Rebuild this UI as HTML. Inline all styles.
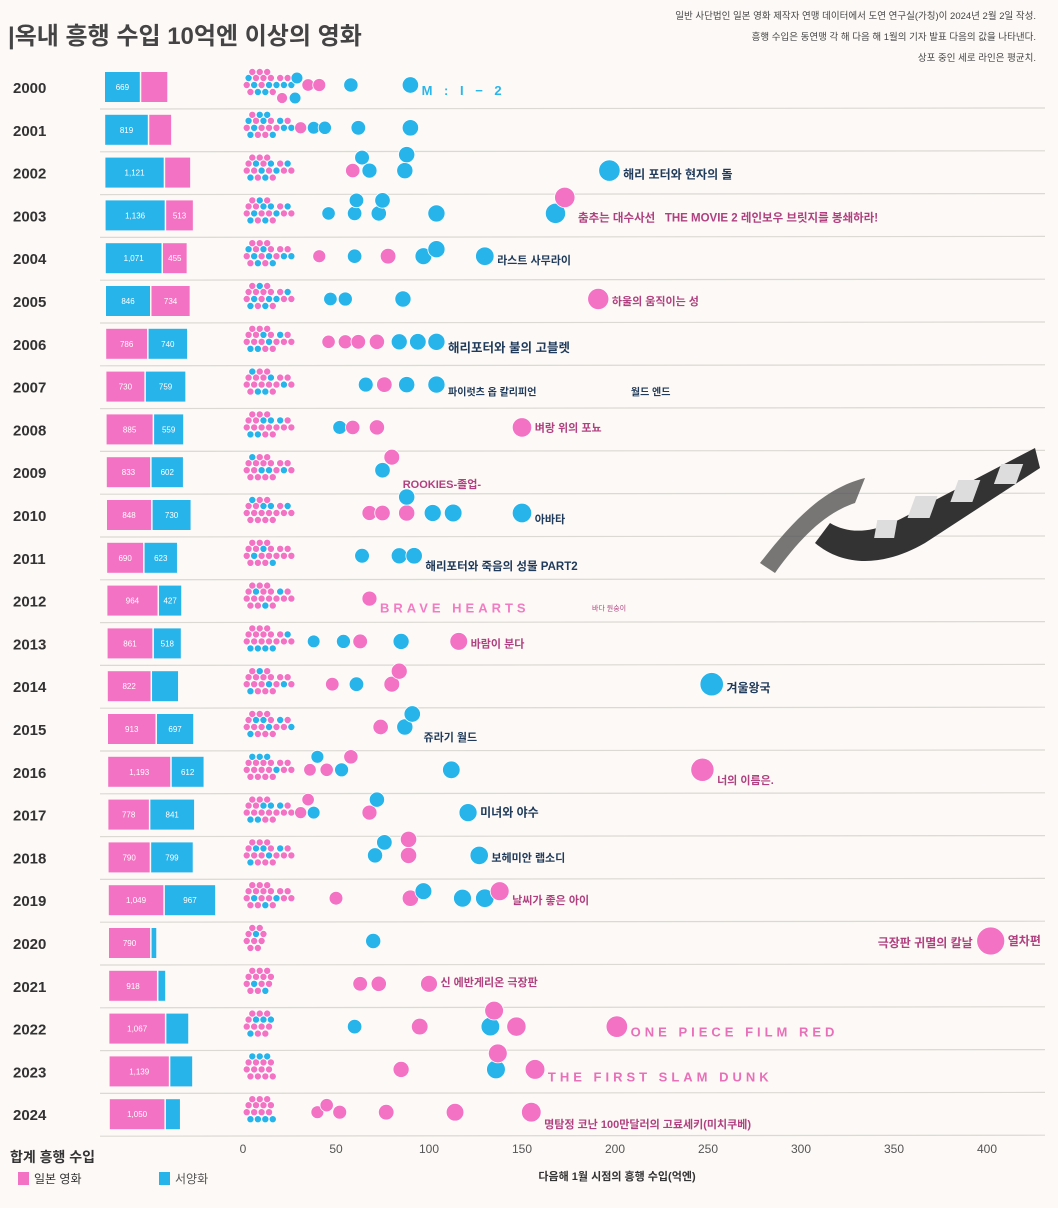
<!DOCTYPE html>
<html><head><meta charset="utf-8">
<style>
html,body{margin:0;padding:0;background:#fcf9f6;}
body{width:1058px;height:1208px;position:relative;overflow:hidden;font-family:"Liberation Sans","Noto Sans CJK KR",sans-serif;}
.t{position:absolute;white-space:nowrap;}
svg text{white-space:pre;}
</style></head><body>
<div class="t" style="left:8px;top:16px;font-size:24px;font-weight:bold;color:#444;">|옥내 흥행 수입 10억엔 이상의 영화</div>
<div class="t" style="right:22px;top:6px;font-size:9.5px;color:#444;text-align:right;line-height:21px;">일반 사단법인 일본 영화 제작자 연맹 데이터에서 도연 연구실(가칭)이 2024년 2월 2일 작성.<br>흥행 수입은 동연맹 각 해 다음 해 1월의 기자 발표 다음의 값을 나타낸다.<br>상포 중인 세로 라인은 평균치.</div>
<svg id="chart" width="1058" height="1208" style="position:absolute;left:0;top:0"></svg>
<script>
const years=[2000,2001,2002,2003,2004,2005,2006,2007,2008,2009,2010,2011,2012,2013,2014,2015,2016,2017,2018,2019,2020,2021,2022,2023,2024];
const barFirstType=['w','w','w','w','w','w','j','j','j','j','j','j','j','j','j','j','j','j','j','j','j','j','j','j','j'];
const barFirst=[669,819,1121,1136,1071,846,786,730,885,833,848,690,964,861,822,913,1193,778,790,1049,790,918,1067,1139,1050];
const barSecond=[500,420,480,513,455,734,740,759,559,602,730,623,427,518,500,697,612,841,799,967,90,130,420,420,270];
const barLabelFirst=['669','819','1,121','1,136','1,071','846','786','730','885','833','848','690','964','861','822','913','1,193','778','790','1,049','790','918','1,067','1,139','1,050'];
const barLabelSecond=['','','','513','455','734','740','759','559','602','730','623','427','518','','697','612','841','799','967','','','','',''];
const clusterVals=[2,3,4,5,6,7,8,9,10,11,12,13,14,15,16,18,20,22,24,26];
const clusterTypes=['jwjjwjwjjjwjwjjwjwjw','jwwjwjjwjwjwjjwjwwjw','jjwjjwjjwjwjjwjwjjwj','jjwjwjjwjwwjjwjwjjwj','jwjjwjwjjwjjwjwjjwjw','jjwjwjjwjjwjwjjwjjwj','jjwjjjwjjwjjwjjjwjjj','jjjwjjwjjjwjjwjjjwjj','jjwjjjwjjwjjjwjjwjjj','jjjwjjjjwjjjwjjjjwjj','jjjwjjjjjwjjjwjjjjwj','jjjjwjjjjwjjjjwjjjjj','jjjjjwjjjjwjjjjjwjjj','jjwjjjwjjjwjjjwjjjwj','jjwjjjjwjjjjwjjjjwjj','jjwjjwjjjwjjwjjjwjjw','jjjwjjjwjjjwjjjwjjjj','jjwjjjwjjwjjjwjjwjjj','jjwjjwjjjwjjwjjjwjjj','jjjjwjjjjjwjjjjwjjjj','jjjjjwjjjj','jjjjwjjjjjwjjj','jjwjjwjjjwjjjw','jjjwjjjwjjjwjjj','jjwjjjwjjjwjjjw'];
const bigVals=[[21,29,35,41,28,58,90],[31,38,44,62,90],[59,64,68,87,88,197],[46,60,61,73,75,104,168,173],[41,60,78,97,104,130],[47,55,86,191],[46,55,62,72,84,94,104],[66,76,88,104],[52,59,72,150],[75,80],[68,75,88,88,102,113,150],[64,84,92],[68],[38,54,63,85,116],[48,61,80,84,252],[74,87,91],[36,40,45,53,58,112,247],[31,35,38,68,72,121],[71,76,89,89,127],[50,90,97,118,130,138],[70,402],[63,73,100],[60,95,133,135,147,201],[85,136,137,157],[40,45,52,77,114,155]];
const bigTypes=['jwjjwww','jwwww','jwwwww','wwwwwwwj','jwjwww','wwwj','jjjjwwww','wjww','wjjj','wj','jjjwwww','www','j','wwjwj','jwjjw','jww','jwjwjwj','jjwjww','wwjjw','jjwwwj','wj','jjj','wjwjjj','jwjj','jjjjjj'];
const ticks=[0,50,100,150,200,250,300,350,400];
const labels=[
 {y:0,v:90,t:'M : I − 2',c:'#29b6ea',ls:4,s:13,dy:8},
 {y:2,v:197,t:'해리 포터와 현자의 돌',c:'#1f3a5a',s:12,dy:6},
 {y:3,v:173,t:'춤추는 대수사선   THE MOVIE 2 레인보우 브릿지를 봉쇄하라!',c:'#b0407f',s:11.5,dy:6},
 {y:4,v:130,t:'라스트 사무라이',c:'#1f3a5a',s:11,dy:6},
 {y:5,v:191,t:'하울의 움직이는 성',c:'#b0407f',s:11,dy:4},
 {y:6,v:104,t:'해리포터와 불의 고블렛',c:'#1f3a5a',s:12.5,dy:8},
 {y:7,v:104,t:'파이럿츠 옵 칼리피언                                  월드 엔드',c:'#1f3a5a',s:10,dy:9},
 {y:8,v:150,t:'벼랑 위의 포뇨',c:'#b0407f',s:11,dy:2},
 {y:9,v:80,t:'ROOKIES-졸업-',c:'#b0407f',s:11,dy:16},
 {y:10,v:150,t:'아바타',c:'#1f3a5a',s:11,dy:8},
 {y:11,v:92,t:'해리포터와 죽음의 성물 PART2',c:'#1f3a5a',s:11.5,dy:12},
 {y:12,v:68,t:'BRAVE HEARTS',c:'#f27cc3',ls:4,s:13,dy:12,x2:' 바다 원숭이'},
 {y:13,v:116,t:'바람이 분다',c:'#b0407f',s:11,dy:4},
 {y:14,v:252,t:'겨울왕국',c:'#1f3a5a',s:12,dy:6},
 {y:15,v:91,t:'쥬라기 월드',c:'#1f3a5a',s:11,dy:12},
 {y:16,v:247,t:'너의 이름은.',c:'#b0407f',s:11,dy:12},
 {y:17,v:121,t:'미녀와 야수',c:'#1f3a5a',s:12,dy:2},
 {y:18,v:127,t:'보헤미안 랩소디',c:'#1f3a5a',s:11,dy:4},
 {y:19,v:138,t:'날씨가 좋은 아이',c:'#b0407f',s:11,dy:4},
 {y:20,v:402,t:'열차편',c:'#b0407f',s:12,dy:2},
 {y:21,v:100,t:'신 에반게리온 극장판',c:'#b0407f',s:11,dy:0},
 {y:22,v:201,t:'ONE PIECE FILM RED',c:'#e86fb8',ls:4,s:13,dy:8},
 {y:23,v:157,t:'THE FIRST SLAM DUNK',c:'#e86fb8',ls:4,s:13,dy:10},
 {y:24,v:155,t:'명탐정 코난 100만달러의 고료세키(미치쿠베)',c:'#b0407f',s:11,dy:14}
];
const PINK='#f472c3',BLUE='#27b4ea';
const NS='http://www.w3.org/2000/svg';
const svg=document.getElementById('chart');
function mk(tag,attrs,parent){const e=document.createElementNS(NS,tag);for(const k in attrs)e.setAttribute(k,attrs[k]);(parent||svg).appendChild(e);return e;}
const xS=v=>243+v*1.86;
const rowY=i=>87+i*42.8;
const barX=105, barS=0.052;
const rS=v=>3+0.55*Math.sqrt(v);

years.forEach((y,i)=>{
  const sy=rowY(i)+22;
  const l=mk('line',{x1:100,y1:sy,x2:1045,y2:sy-1,stroke:'#dcd8d4','stroke-width':1.2});
  
  
});
years.forEach((yr,i)=>{
  const cy=rowY(i);
  const bx=barX+i*0.2;
  const t=mk('text',{x:13,y:cy+6,'font-size':15,'font-weight':'bold',fill:'#333'});t.textContent=yr;
  
  
  const t1=barFirstType[i], t2=t1==='w'?'j':'w';
  const w1=barFirst[i]*barS, w2=barSecond[i]*barS;
  const b1=mk('rect',{x:bx,y:cy-15,width:w1,height:30,fill:t1==='w'?BLUE:PINK});
  
  
  const b2=mk('rect',{x:bx+w1+1.5,y:cy-15,width:w2,height:30,fill:t2==='w'?BLUE:PINK});
  
  
  const l1=mk('text',{x:bx+w1/2,y:cy+3,'font-size':8,fill:'#fff','text-anchor':'middle'});l1.textContent=barLabelFirst[i];
  
  
  if(barLabelSecond[i]){const l2=mk('text',{x:bx+w1+1.5+w2/2,y:cy+3,'font-size':8,fill:'#fff','text-anchor':'middle'});l2.textContent=barLabelSecond[i];
  
  }
});
years.forEach((yr,i)=>{
  const cy=rowY(i)-2;
  const pts=[];
  const ct=clusterTypes[i];
  for(let k=0;k<ct.length;k++)pts.push({v:clusterVals[k%clusterVals.length],t:ct[k],small:true});
  bigVals[i].forEach((v,k)=>pts.push({v:v,t:bigTypes[i][k]}));
  const placed=[];
  pts.forEach(p=>{
    const r=p.small?3.6:rS(p.v);
    const x=xS(p.v);
    const offs=[0,-7,7,-13,13,-4,4,-10,10,-16,16];
    let best=offs[0];
    for(const o of offs){
      if(placed.every(q=>Math.hypot(q.x-x,q.y-(cy+o))>=(q.r+r)*0.85)){best=o;break;}
      best=o;
    }
    placed.push({x:x,y:cy+best,r:r});
    const c=mk('circle',{cx:x,cy:cy+best,r:r,fill:p.t==='w'?BLUE:PINK,stroke:'#fff','stroke-width':0.8});
    
    
  });
});
labels.forEach(L=>{
  const cy=rowY(L.y);
  const x=xS(L.v)+rS(L.v)+3;
  const t=mk('text',{x:x,y:cy+L.dy,'font-size':L.s,fill:L.c,'font-weight':'bold','letter-spacing':L.ls||0});
  t.textContent=L.t;
  
  
  if(L.x2){const t2=mk('text',{x:x+210,y:cy+L.dy-2,'font-size':7,fill:'#b0407f'});t2.textContent=L.x2;
  
  }
});
{const t=mk('text',{x:xS(402)-18,y:rowY(20)+4,'font-size':12,fill:'#b0407f','font-weight':'bold','text-anchor':'end'});t.textContent='극장판 귀멸의 칼날';

}
ticks.forEach(v=>{
  const t=mk('text',{x:xS(v),y:1153,'font-size':12,fill:'#555','text-anchor':'middle'});t.textContent=v;
  
  
});
{const t=mk('text',{x:617,y:1180,'font-size':11,fill:'#333','font-weight':'bold','text-anchor':'middle'});t.textContent='다음해 1월 시점의 흥행 수입(억엔)';

}
{const t=mk('text',{x:10,y:1162,'font-size':14,fill:'#333','font-weight':'bold'});t.textContent='합계 흥행 수입';


const s1=mk('rect',{x:18,y:1172,width:11,height:13,fill:PINK});


const l1=mk('text',{x:34,y:1183,'font-size':12,fill:'#333'});l1.textContent='일본 영화';


const s2=mk('rect',{x:159,y:1172,width:11,height:13,fill:BLUE});


const l2=mk('text',{x:175,y:1183,'font-size':12,fill:'#555'});l2.textContent='서양화';

}
</script>
<svg width="300" height="140" style="position:absolute;left:755px;top:448px">
  <path d="M5,115 C40,70 70,40 110,30 L100,55 C70,65 45,90 20,125 Z" fill="#555" opacity="0.8"/>
  <path d="M60,95 C90,120 130,118 170,95 L285,20 L280,0 L165,60 C130,82 100,90 75,75 Z" fill="#333"/>
  <g fill="#ddd">
    <rect x="178" y="48" width="22" height="22" transform="skewX(-20)"/>
    <rect x="215" y="32" width="22" height="22" transform="skewX(-20)"/>
    <rect x="252" y="16" width="22" height="20" transform="skewX(-20)"/>
    <rect x="135" y="72" width="20" height="18" transform="skewX(-10)"/>
  </g>
</svg>
</body></html>
